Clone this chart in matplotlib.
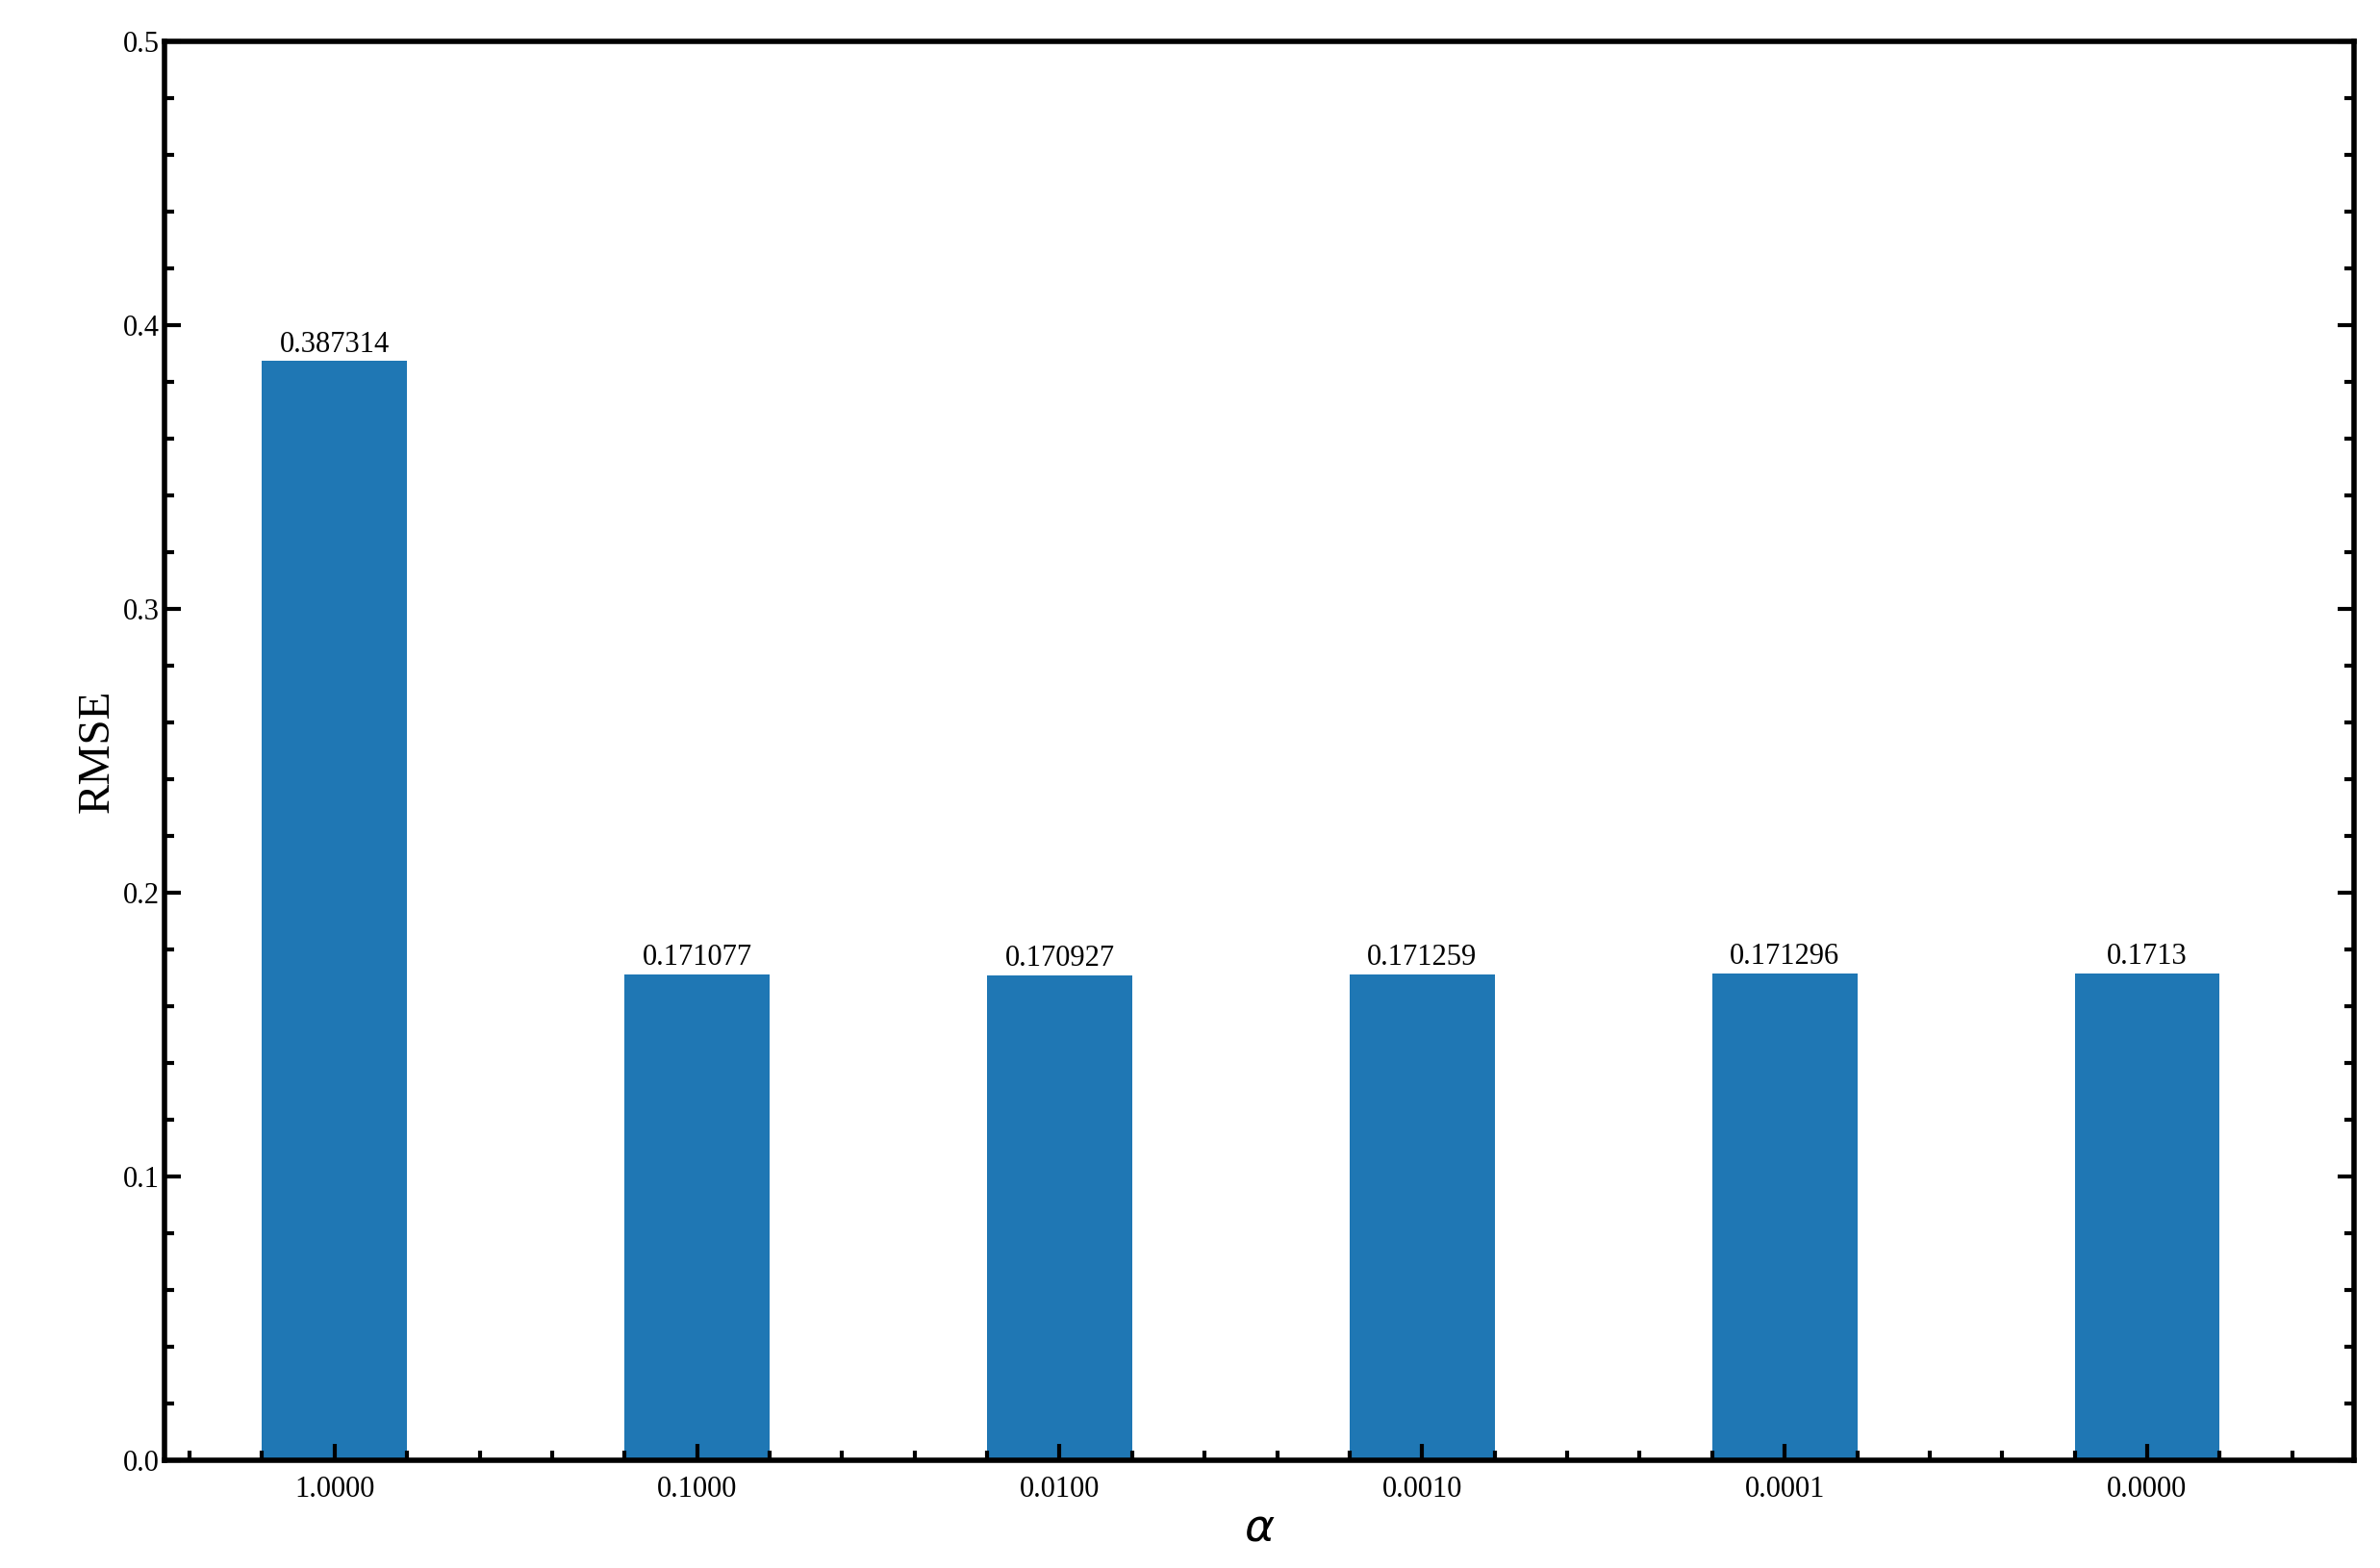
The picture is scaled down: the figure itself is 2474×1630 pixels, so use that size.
import matplotlib
matplotlib.use('Agg')
from matplotlib import pyplot as plt
from matplotlib.ticker import MultipleLocator
import numpy as np

alphas = ['1.0000', '0.1000', '0.0100', '0.0010', '0.0001', '0.0000']
rmse = [0.387314, 0.171077, 0.170927, 0.171259, 0.171296, 0.1713]
value_labels = ['0.387314', '0.171077', '0.170927', '0.171259', '0.171296', '0.1713']

plt.rcParams['font.family'] = ['Liberation Serif', 'DejaVu Serif']

fig = plt.figure(figsize=(24.74, 16.30), dpi=100)
ax = fig.add_axes([0.069, 0.069, 0.92, 0.9045])

x = np.arange(len(alphas))
bars = ax.bar(x, rmse, 0.4, color='#1f77b4')
for b, lab in zip(bars, value_labels):
    ax.text(b.get_x() + b.get_width() / 2, b.get_height() + 0.001, lab,
            ha='center', va='bottom', fontsize=22)

ax.set_xlim(-0.47, 5.57)
ax.set_ylim(0, 0.5)
ax.set_xticks(x)
ax.set_xticklabels(alphas)
ax.xaxis.set_minor_locator(MultipleLocator(0.2))
ax.yaxis.set_major_locator(MultipleLocator(0.1))
ax.yaxis.set_minor_locator(MultipleLocator(0.02))
ax.tick_params(which='both', direction='in', labelsize=22, width=3,
               left=True, right=True, top=False, bottom=True)
ax.tick_params(which='major', length=12)
ax.tick_params(which='minor', length=7)
ax.tick_params(axis='x', which='major', pad=12)
for s in ax.spines.values():
    s.set_linewidth(4)

ax.set_xlabel(r'$\alpha$', fontsize=34)
ax.set_ylabel('RMSE', fontsize=34)

fig.savefig('out.png', dpi=100)
